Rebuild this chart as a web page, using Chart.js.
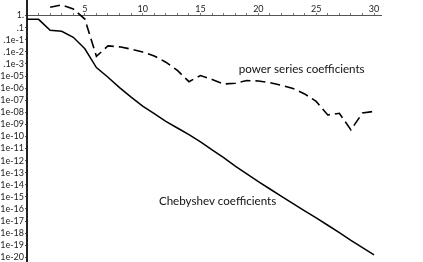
<!DOCTYPE html>
<html>
<head>
<meta charset="utf-8">
<script src="https://cdn.jsdelivr.net/npm/chart.js@4"></script>
<style>
  html, body { margin: 0; padding: 0; background: #fff; }
  #wrap { width: 423px; height: 262px; position: relative; }
</style>
</head>
<body>
<div id="wrap"><canvas id="coeffChart"></canvas></div>
<script>
// --- coefficient decay, log scale ---

const nValues = [0, 1, 2, 3, 4, 5, 6, 7, 8, 9, 10, 11, 12, 13, 14, 15, 16, 17, 18, 19, 20,
                 21, 22, 23, 24, 25, 26, 27, 28, 29, 30];

const chebyshevCoeffs = [0.49, 0.49, 0.060, 0.050, 0.016, 1.8e-3, 5.0e-5, 7.9e-6, 1.1e-6, 1.8e-7,
                         3.2e-8, 7.9e-9, 1.8e-9, 5.0e-10, 1.4e-10, 3.5e-11, 7.9e-12, 1.8e-12, 3.5e-13, 7.9e-14,
                         1.8e-14, 4.5e-15, 1.1e-15, 2.8e-16, 7.1e-17, 1.8e-17, 4.5e-18, 1.1e-18, 2.5e-19, 6.3e-20,
                         1.6e-20];

const powerCoeffs = [null, null, 4.9, 7.6, 3.5, 0.52, 4.2e-4, 3.1e-3, 2.6e-3, 1.7e-3,
                     9.8e-4, 4.6e-4, 1.4e-4, 2.9e-5, 3.4e-6, 1.1e-5, 5.2e-6, 2.2e-6, 2.5e-6, 4.2e-6,
                     3.9e-6, 2.8e-6, 1.7e-6, 9.3e-7, 3.3e-7, 7.9e-8, 6.0e-9, 8.3e-9, 3.5e-10, 8.7e-9,
                     1.2e-8];

const yTickValues = [1, 1e-1, 1e-2, 1e-3, 1e-4, 1e-5, 1e-6, 1e-7, 1e-8, 1e-9, 1e-10,
                     1e-11, 1e-12, 1e-13, 1e-14, 1e-15, 1e-16, 1e-17, 1e-18, 1e-19, 1e-20];
const yTickLabels = ['1.', '.1', '.1e-1', '.1e-2', '.1e-3', '1e-05', '1e-06', '1e-07', '1e-08', '1e-09', '1e-10',
                     '1e-11', '1e-12', '1e-13', '1e-14', '1e-15', '1e-16', '1e-17', '1e-18', '1e-19', '1e-20'];

const xTickValues = [1, 2, 3, 4, 5, 6, 7, 8, 9, 10, 11, 12, 13, 14, 15, 16, 17, 18, 19, 20,
                     21, 22, 23, 24, 25, 26, 27, 28, 29, 30];
const xLabelled = [5, 10, 15, 20, 25, 30];

// curve captions, anchored in data units
const captionTexts = ['power series coefficients', 'Chebyshev coefficients'];
const captionN = [18.3, 11.4];
const captionVal = [3.8e-5, 4.6e-16];

const captionPlugin = {
    id: 'captions',
    afterDatasetsDraw(chart) {
        const ctx = chart.ctx;
        const sx = chart.scales.x, sy = chart.scales.y;
        ctx.save();
        ctx.fillStyle = '#111';
        ctx.font = '11.6px Lato';
        ctx.textAlign = 'left';
        ctx.textBaseline = 'middle';
        captionTexts.forEach((t, i) => {
            ctx.fillText(t, sx.getPixelForValue(captionN[i]), sy.getPixelForValue(captionVal[i]));
        });
        ctx.restore();
    }
};

function noLabelPadding(s) {
    s.paddingTop = 0;
    s.paddingBottom = 0;
    s.paddingLeft = 0;
    s.paddingRight = 0;
}

new Chart(document.getElementById('coeffChart'), {
    type: 'line',
    data: {
        labels: nValues,
        datasets: [
            {
                label: 'power series coefficients',
                data: powerCoeffs,
                borderColor: '#000',
                borderWidth: 1.6,
                borderDash: [10, 5],
                pointRadius: 0,
                tension: 0,
                spanGaps: false,
                clip: false
            },
            {
                label: 'Chebyshev coefficients',
                data: chebyshevCoeffs,
                borderColor: '#000',
                borderWidth: 1.5,
                pointRadius: 0,
                tension: 0,
                clip: false
            }
        ]
    },
    options: {
        responsive: true,
        maintainAspectRatio: false,
        animation: false,
        layout: { padding: { left: 0, right: 42, top: 0, bottom: 0 } },
        plugins: {
            legend: { display: false },
            tooltip: { enabled: false }
        },
        scales: {
            x: {
                type: 'linear',
                min: 0,
                max: 30.6,
                position: { y: 1 },
                afterFit: s => { s.height = 0; noLabelPadding(s); },
                afterBuildTicks: s => { s.ticks = xTickValues.map(v => ({ value: v })); },
                border: { display: true, color: '#555', width: 1 },
                grid: { display: true, drawOnChartArea: false, drawTicks: true, tickLength: -3, color: '#777' },
                ticks: {
                    autoSkip: false,
                    maxRotation: 0,
                    padding: -9,
                    color: '#222',
                    font: { family: 'Lato', size: 9 },
                    callback: v => xLabelled.includes(v) ? String(v) : ''
                }
            },
            y: {
                type: 'logarithmic',
                min: 4.1e-21,
                max: 19.5,
                afterFit: s => { s.width = 27; noLabelPadding(s); },
                afterBuildTicks: s => { s.ticks = yTickValues.map(v => ({ value: v })); },
                border: { display: true, color: '#222', width: 2 },
                grid: { display: true, drawOnChartArea: false, drawTicks: true, tickLength: 2, color: '#555' },
                ticks: {
                    autoSkip: false,
                    padding: 1,
                    color: '#222',
                    font: { family: 'Lato', size: 9 },
                    callback: (v, i) => yTickLabels[i]
                }
            }
        }
    },
    plugins: [captionPlugin]
});
</script>
</body>
</html>
